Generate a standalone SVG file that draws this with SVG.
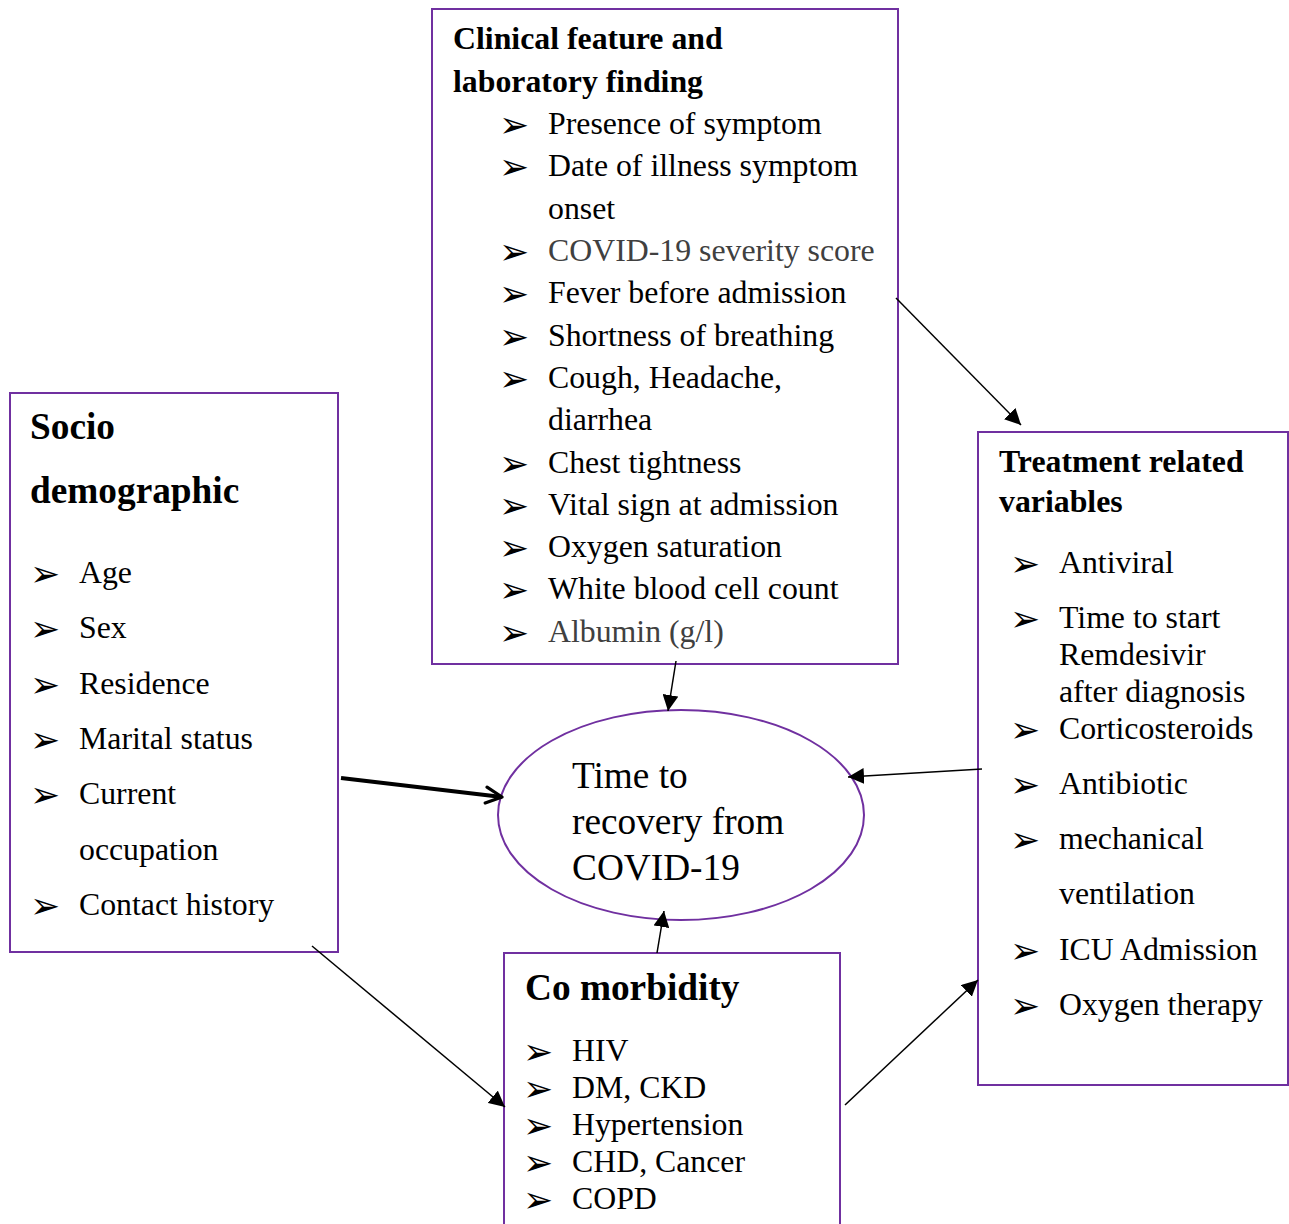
<svg xmlns="http://www.w3.org/2000/svg" width="1289" height="1224" viewBox="0 0 1289 1224">
<style>
.box{fill:#fff;stroke:#7030A0;stroke-width:2}
.t{font-family:"Liberation Serif","Times New Roman",serif;font-size:31.8px;fill:#000}
.h{font-family:"Liberation Serif","Times New Roman",serif;font-size:31.8px;font-weight:bold;fill:#000}
.hb{font-family:"Liberation Serif","Times New Roman",serif;font-size:37.3px;font-weight:bold;fill:#000}
.big{font-family:"Liberation Serif","Times New Roman",serif;font-size:37.3px;fill:#000}
.g{fill:#404040}
.b{font-family:"DejaVu Sans",sans-serif;font-size:36px;fill:#000}
.c{stroke:#000;stroke-width:1.5;fill:none}
</style>
<defs>
<marker id="ah" viewBox="0 0 10 10" refX="10" refY="5" markerWidth="16" markerHeight="16" markerUnits="userSpaceOnUse" orient="auto">
<path d="M0,0 L10,5 L0,10 z" fill="#000"/>
</marker>
<marker id="ah2" viewBox="0 0 10 10" refX="9" refY="5" markerWidth="20" markerHeight="20" markerUnits="userSpaceOnUse" orient="auto">
<path d="M1,1 L9,5 L1,9" fill="none" stroke="#000" stroke-width="1.6" stroke-linecap="round" stroke-linejoin="round"/>
</marker>
</defs>
<rect width="1289" height="1224" fill="#fff"/>

<g id="clinical">
<rect class="box" x="432" y="9" width="466" height="655"/>
<text class="h" x="453" y="49">Clinical feature and</text>
<text class="h" x="453" y="92">laboratory finding</text>
<g class="b">
<text x="499" y="137">➢</text><text x="499" y="179">➢</text><text x="499" y="264">➢</text><text x="499" y="306">➢</text><text x="499" y="349">➢</text><text x="499" y="391">➢</text><text x="499" y="476">➢</text><text x="499" y="518">➢</text><text x="499" y="560">➢</text><text x="499" y="602">➢</text><text x="499" y="645">➢</text>
</g>
<text class="t" x="548" y="134">Presence of symptom</text>
<text class="t" x="548" y="176">Date of illness symptom</text>
<text class="t" x="548" y="219">onset</text>
<text class="t g" x="548" y="261">COVID-19 severity score</text>
<text class="t" x="548" y="303">Fever before admission</text>
<text class="t" x="548" y="346">Shortness of breathing</text>
<text class="t" x="548" y="388">Cough, Headache,</text>
<text class="t" x="548" y="430">diarrhea</text>
<text class="t" x="548" y="473">Chest tightness</text>
<text class="t" x="548" y="515">Vital sign at admission</text>
<text class="t" x="548" y="557">Oxygen saturation</text>
<text class="t" x="548" y="599">White blood cell count</text>
<text class="t g" x="548" y="642">Albumin (g/l)</text>
</g>

<g id="socio">
<rect class="box" x="10" y="393" width="328" height="559"/>
<text class="hb" x="30" y="439">Socio</text>
<text class="hb" x="30" y="503">demographic</text>
<g class="b">
<text x="30" y="586">➢</text><text x="30" y="641">➢</text><text x="30" y="697">➢</text><text x="30" y="752">➢</text><text x="30" y="807">➢</text><text x="30" y="918">➢</text>
</g>
<text class="t" x="79" y="583">Age</text>
<text class="t" x="79" y="638">Sex</text>
<text class="t" x="79" y="694">Residence</text>
<text class="t" x="79" y="749">Marital status</text>
<text class="t" x="79" y="804">Current</text>
<text class="t" x="79" y="860">occupation</text>
<text class="t" x="79" y="915">Contact history</text>
</g>

<g id="treatment">
<rect class="box" x="978" y="432" width="310" height="653"/>
<text class="h" x="999" y="472">Treatment related</text>
<text class="h" x="999" y="512">variables</text>
<g class="b">
<text x="1010" y="576">➢</text><text x="1010" y="631">➢</text><text x="1010" y="742">➢</text><text x="1010" y="797">➢</text><text x="1010" y="852">➢</text><text x="1010" y="963">➢</text><text x="1010" y="1018">➢</text>
</g>
<text class="t" x="1059" y="573">Antiviral</text>
<text class="t" x="1059" y="628">Time to start</text>
<text class="t" x="1059" y="665">Remdesivir</text>
<text class="t" x="1059" y="702">after diagnosis</text>
<text class="t" x="1059" y="739">Corticosteroids</text>
<text class="t" x="1059" y="794">Antibiotic</text>
<text class="t" x="1059" y="849">mechanical</text>
<text class="t" x="1059" y="904">ventilation</text>
<text class="t" x="1059" y="960">ICU Admission</text>
<text class="t" x="1059" y="1015">Oxygen therapy</text>
</g>

<g id="comorbidity">
<rect class="box" x="504" y="953" width="336" height="280"/>
<text class="hb" x="525" y="1000">Co morbidity</text>
<g class="b">
<text x="523" y="1064">➢</text><text x="523" y="1101">➢</text><text x="523" y="1138">➢</text><text x="523" y="1175">➢</text><text x="523" y="1212">➢</text>
</g>
<text class="t" x="572" y="1061">HIV</text>
<text class="t" x="572" y="1098">DM, CKD</text>
<text class="t" x="572" y="1135">Hypertension</text>
<text class="t" x="572" y="1172">CHD, Cancer</text>
<text class="t" x="572" y="1209">COPD</text>
</g>

<g id="outcome">
<ellipse cx="681" cy="815" rx="183" ry="105" fill="#fff" stroke="#7030A0" stroke-width="2"/>
<text class="big" x="572" y="788">Time to</text>
<text class="big" x="572" y="834">recovery from</text>
<text class="big" x="572" y="880">COVID-19</text>
</g>

<g id="connectors">
<line class="c" x1="896" y1="298" x2="1021" y2="425" marker-end="url(#ah)"/>
<line class="c" x1="676" y1="661" x2="668" y2="711" marker-end="url(#ah)"/>
<line x1="341" y1="778" x2="502" y2="797" stroke="#000" stroke-width="4" marker-end="url(#ah2)"/>
<line class="c" x1="982" y1="769" x2="848" y2="777" marker-end="url(#ah)"/>
<line class="c" x1="657" y1="953" x2="664" y2="911" marker-end="url(#ah)"/>
<line class="c" x1="312" y1="946" x2="505" y2="1107" marker-end="url(#ah)"/>
<line class="c" x1="845" y1="1105" x2="978" y2="980" marker-end="url(#ah)"/>
</g>
</svg>
